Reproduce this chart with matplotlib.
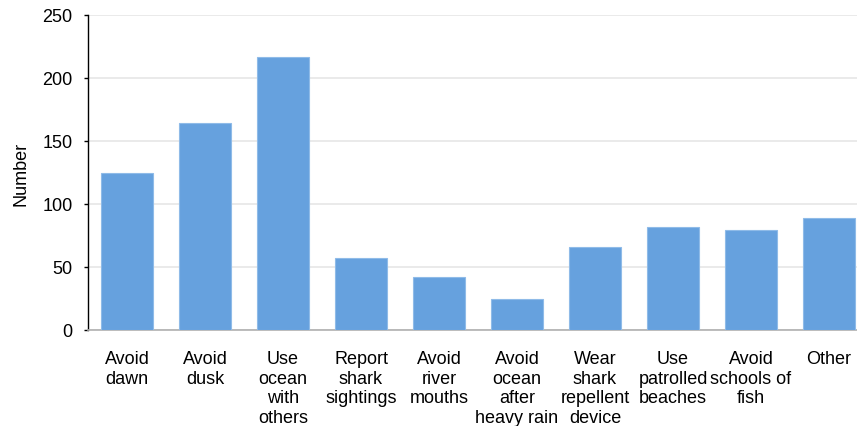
import matplotlib.pyplot as plt

# Shark safety behaviours reported by respondents
categories = ["Avoid\ndawn", "Avoid\ndusk", "Use\nocean\nwith\nothers",
              "Report\nshark\nsightings", "Avoid\nriver\nmouths",
              "Avoid\nocean\nafter\nheavy rain", "Wear\nshark\nrepellent\ndevice",
              "Use\npatrolled\nbeaches", "Avoid\nschools of\nfish", "Other"]
counts = [125, 164, 217, 57, 42, 25, 66, 82, 79, 89]
yticks = [0, 50, 100, 150, 200, 250]

plt.rcParams['font.family'] = ['Liberation Sans', 'DejaVu Sans']

fig = plt.figure(figsize=(8.57, 4.27), dpi=100)
ax = fig.add_axes([88/857, 96/427, 780/857, 315/427])

x = range(len(categories))
ax.bar(x, counts, width=0.67, color='#66a1de', edgecolor='#8fbbe8', linewidth=0.8, zorder=3)

ax.set_xlim(-0.5, len(categories) - 0.5)
ax.set_ylim(0, 250)
ax.set_yticks(yticks)
ax.set_yticklabels([str(t) for t in yticks], fontsize=13)
ax.set_xticks(list(x))
ax.set_xticklabels(categories, fontsize=13, linespacing=1.2, va='top')
ax.tick_params(axis='x', length=0, pad=14.5)
ax.tick_params(axis='y', length=3, width=1, pad=8, color='black')

ax.grid(axis='y', color='#e6e6e6', linewidth=1.2, zorder=0)
for side in ['top', 'right']:
    ax.spines[side].set_visible(False)
ax.spines['left'].set_color('black')
ax.spines['left'].set_linewidth(1)
ax.spines['bottom'].set_color('#b0b0b0')
ax.spines['bottom'].set_linewidth(1.2)

ax.set_ylabel("Number", fontsize=13, labelpad=9)

fig.savefig("out.png", dpi=100)
